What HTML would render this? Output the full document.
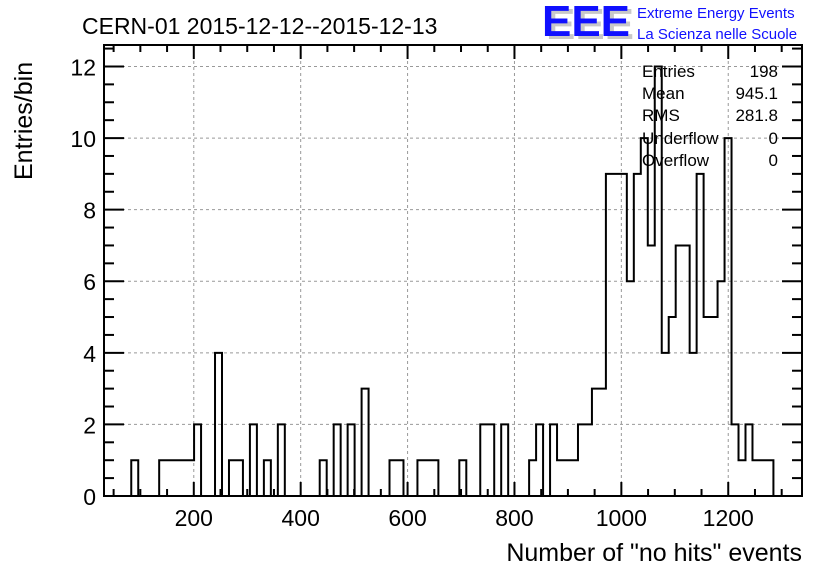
<!DOCTYPE html>
<html><head><meta charset="utf-8"><style>
body{margin:0;background:#fff;}
svg{display:block;font-family:"Liberation Sans",sans-serif;}
</style></head><body>
<svg id="chart" width="836" height="572" viewBox="0 0 836 572">
<rect width="836" height="572" fill="#fff"/>
<text x="82" y="34" font-size="23" fill="#000">CERN-01 2015-12-12--2015-12-13</text>
<g>
<text x="546" y="39" font-size="44" font-weight="bold" fill="#c8c8c8" textLength="88" lengthAdjust="spacingAndGlyphs">EEE</text>
<text x="542" y="36" font-size="44" font-weight="bold" fill="#1010ff" textLength="88" lengthAdjust="spacingAndGlyphs">EEE</text>
<text x="637" y="18" font-size="15" fill="#1010ff">Extreme Energy Events</text>
<text x="637" y="39" font-size="15" fill="#1010ff">La Scienza nelle Scuole</text>
</g>
<g id="grid"></g>
<g id="ticks"></g>
<path id="hist" fill="none" stroke="#000" stroke-width="2"/>
<rect x="104" y="45" width="698" height="451" fill="none" stroke="#000" stroke-width="2"/>
<g id="labels"></g>
<text x="802" y="561" font-size="25" text-anchor="end">Number of "no hits" events</text>
<text transform="translate(32,180) rotate(-90)" font-size="25">Entries/bin</text>
<g font-size="17">
<text x="642" y="77">Entries</text><text x="778" y="77" text-anchor="end">198</text>
<text x="642" y="99">Mean</text><text x="778" y="99" text-anchor="end">945.1</text>
<text x="642" y="121">RMS</text><text x="778" y="121" text-anchor="end">281.8</text>
<text x="642" y="144">Underflow</text><text x="778" y="144" text-anchor="end">0</text>
<text x="642" y="166">Overflow</text><text x="778" y="166" text-anchor="end">0</text>
</g>
</svg>
<script>
const binStart = 83;
const binWidth = 13.06;
const counts = [1,0,0,0,1,1,1,1,1,2,0,0,4,0,1,1,0,2,0,1,0,2,0,0,0,0,0,1,0,2,0,2,0,3,0,0,0,1,1,0,0,1,1,1,0,0,0,1,0,0,2,2,0,2,0,0,0,1,2,0,2,1,1,1,2,2,3,3,9,9,9,6,9,10,7,12,4,5,7,7,4,9,5,5,6,10,2,1,2,1,1,1];
const xTickLabels = [200,400,600,800,1000,1200];
const yTickLabels = [0,2,4,6,8,10,12];

const X0=104,X1=802,Y0=496,Y1=45;
const xMin=32,xMax=1338,yMin=0,yMax=12.6;
const sx=v=>X0+(v-xMin)/(xMax-xMin)*(X1-X0);
const sy=v=>Y0-(v-yMin)/(yMax-yMin)*(Y0-Y1);
const NS="http://www.w3.org/2000/svg";
function mk(tag,attrs,parent){const e=document.createElementNS(NS,tag);for(const k in attrs)e.setAttribute(k,attrs[k]);parent.appendChild(e);return e;}
const grid=document.getElementById('grid'),ticks=document.getElementById('ticks'),labels=document.getElementById('labels');

xTickLabels.forEach(v=>{
  const l=mk('line',{x1:sx(v),x2:sx(v),y1:Y0,y2:Y1,stroke:'#999','stroke-dasharray':'3,3','stroke-width':1},grid);
  
  
  const t=mk('text',{x:sx(v),y:526,'font-size':23,'text-anchor':'middle'},labels);
  t.textContent=v;
  
  
});
yTickLabels.forEach(v=>{
  if(v>0){const l=mk('line',{x1:X0,x2:X1,y1:sy(v),y2:sy(v),stroke:'#999','stroke-dasharray':'3,3','stroke-width':1},grid);
  
  }
  const t=mk('text',{x:96,y:sy(v)+9,'font-size':23,'text-anchor':'end'},labels);
  t.textContent=v;
  
  
});
for(let v=50;v<xMax;v+=50){
  if(v<xMin)continue;
  const major=v%200===0, len=major?14:7;
  mk('line',{x1:sx(v),x2:sx(v),y1:Y0,y2:Y0-len,stroke:'#000','stroke-width':2},ticks);
  mk('line',{x1:sx(v),x2:sx(v),y1:Y1,y2:Y1+len,stroke:'#000','stroke-width':2},ticks);
}
for(let v=0.5;v<yMax;v+=0.5){
  const major=Math.abs(v%2)<1e-6, len=major?20:10;
  mk('line',{x1:X0,x2:X0+len,y1:sy(v),y2:sy(v),stroke:'#000','stroke-width':2},ticks);
  mk('line',{x1:X1,x2:X1-len,y1:sy(v),y2:sy(v),stroke:'#000','stroke-width':2},ticks);
}
let d='M'+sx(binStart)+','+sy(0);
counts.forEach((c,i)=>{
  const a=sx(binStart+i*binWidth),b=sx(binStart+(i+1)*binWidth);
  d+=' L'+a+','+sy(c)+' L'+b+','+sy(c);
});
d+=' L'+sx(binStart+counts.length*binWidth)+','+sy(0);
document.getElementById('hist').setAttribute('d',d);
</script>
</body></html>
